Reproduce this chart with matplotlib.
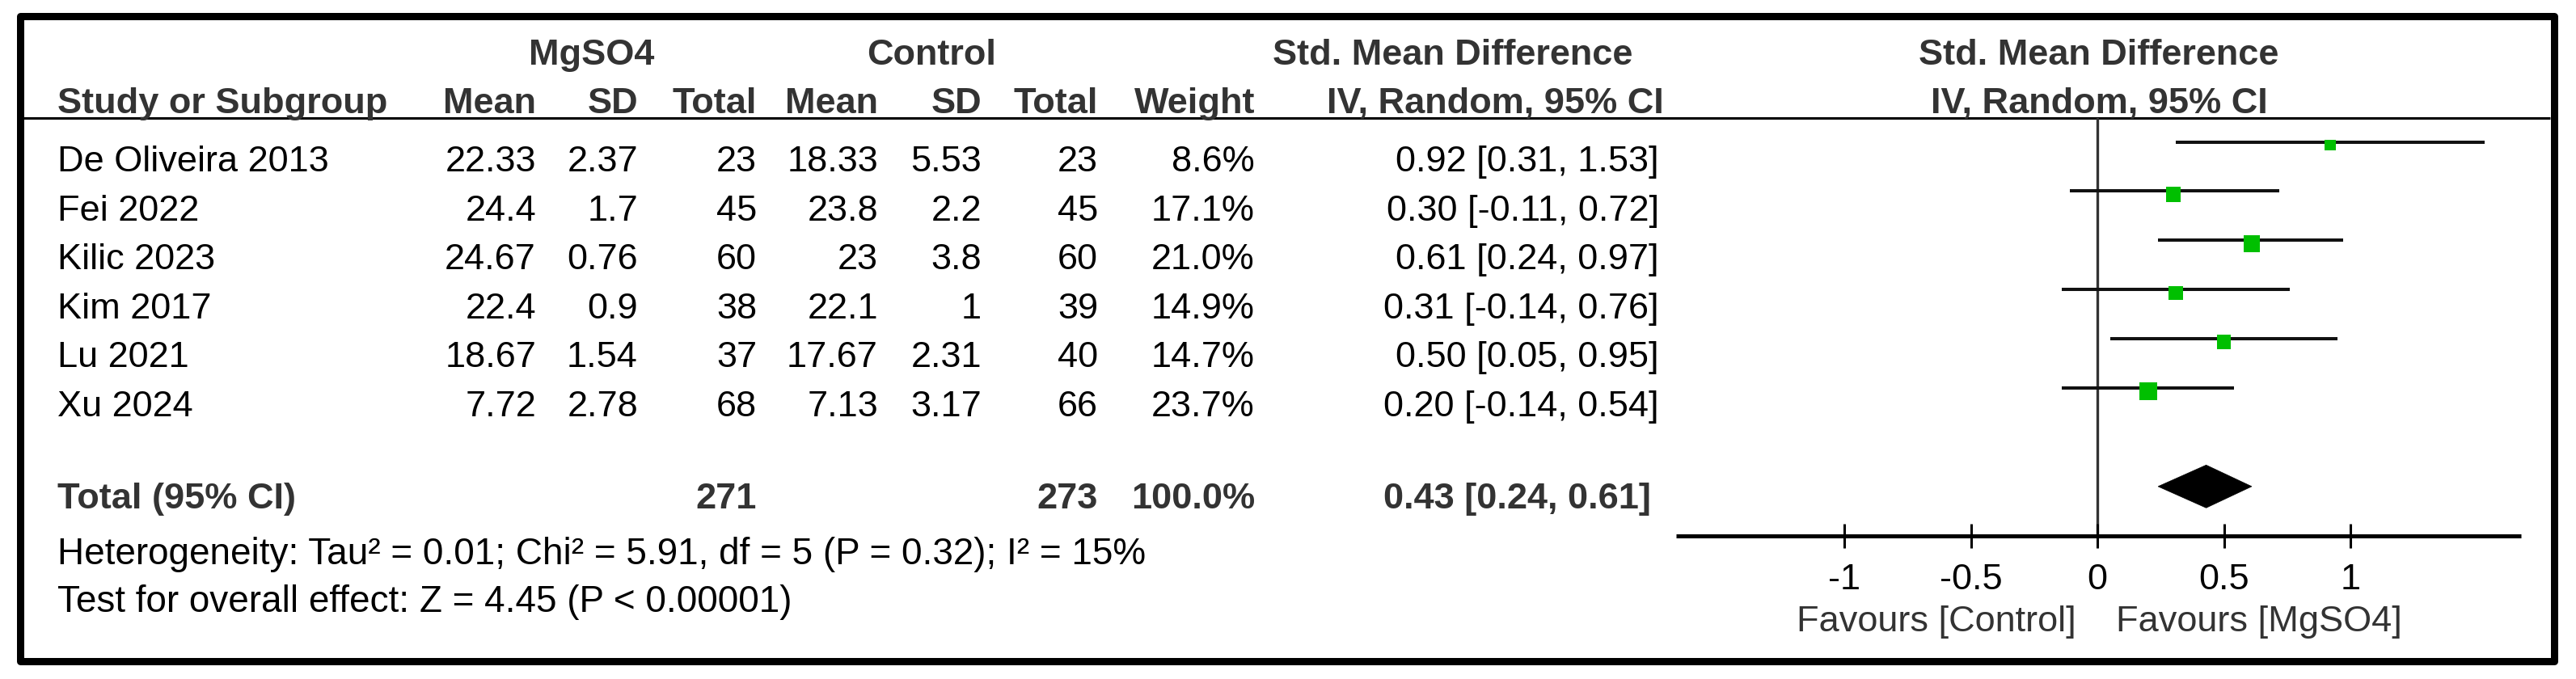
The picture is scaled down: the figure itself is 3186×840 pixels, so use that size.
import matplotlib
matplotlib.use("Agg")
import matplotlib.pyplot as plt
from matplotlib.patches import Rectangle, Polygon
import numpy as np

# ---------------- data ----------------
studies = ['De Oliveira 2013', 'Fei 2022', 'Kilic 2023', 'Kim 2017', 'Lu 2021', 'Xu 2024']
mg_mean = [22.33, 24.4, 24.67, 22.4, 18.67, 7.72]
mg_sd = [2.37, 1.7, 0.76, 0.9, 1.54, 2.78]
mg_n = [23, 45, 60, 38, 37, 68]
ct_mean = [18.33, 23.8, 23, 22.1, 17.67, 7.13]
ct_sd = [5.53, 2.2, 3.8, 1, 2.31, 3.17]
ct_n = [23, 45, 60, 39, 40, 66]
weight = [8.6, 17.1, 21.0, 14.9, 14.7, 23.7]
smd = [0.92, 0.30, 0.61, 0.31, 0.50, 0.20]
ci_lo = [0.31, -0.11, 0.24, -0.14, 0.05, -0.14]
ci_hi = [1.53, 0.72, 0.97, 0.76, 0.95, 0.54]
total_mg_n = 271
total_ct_n = 273
total_weight = 100.0
total_smd = 0.43
total_lo = 0.24
total_hi = 0.61
heterogeneity = "Heterogeneity: Tau\u00b2 = 0.01; Chi\u00b2 = 5.91, df = 5 (P = 0.32); I\u00b2 = 15%"
overall = "Test for overall effect: Z = 4.45 (P < 0.00001)"
tick_vals = [-1, -0.5, 0, 0.5, 1]
tick_labels = ['-1', '-0.5', '0', '0.5', '1']
favours_left = "Favours [Control]"
favours_right = "Favours [MgSO4]"

# ---------------- layout ----------------
W, H = 3186, 840
DPI = 100
FONT = 'Liberation Sans'
FS = 32.5
GRAY = '#333333'

fig = plt.figure(figsize=(W / DPI, H / DPI), dpi=DPI)
fig.patch.set_facecolor('white')

ax_t = fig.add_axes([0, 0, 1, 1])
ax_t.set_xlim(0, W)
ax_t.set_ylim(H, 0)
ax_t.axis('off')

def txt(x, y, s, ha='left', bold=False, color='black', fs=FS):
    ax_t.text(x, y, s, ha=ha, va='baseline', fontsize=fs, family=FONT,
              fontweight='bold' if bold else 'normal', color=color)

# frame
ax_t.add_patch(Rectangle((24.5, 19.5), 3158.5 - 24.5, 817.5 - 19.5, fill=False,
                         lw=9 * 0.72, ec='black', joinstyle='round', clip_on=False))
# header underline
ax_t.plot([29, 3154], [145.5, 145.5], color='black', lw=2.2, solid_capstyle='butt')

# column right edges (px)
x_study = 71
x_mg_mean, x_mg_sd, x_mg_n = 663, 789, 936
x_ct_mean, x_ct_sd, x_ct_n = 1086, 1214, 1358
x_w = 1552
x_ci = 2052
x_ci_head = 2058

# header rows
txt(732, 80, 'MgSO4', ha='center', bold=True, color=GRAY)
txt(1152, 80, 'Control', ha='center', bold=True, color=GRAY)
txt(1797, 80, 'Std. Mean Difference', ha='center', bold=True, color=GRAY)
txt(2596, 80, 'Std. Mean Difference', ha='center', bold=True, color=GRAY)
y_h2 = 140
txt(x_study, y_h2, 'Study or Subgroup', bold=True, color=GRAY)
for x, s in [(x_mg_mean, 'Mean'), (x_mg_sd, 'SD'), (x_mg_n, 'Total'),
             (x_ct_mean, 'Mean'), (x_ct_sd, 'SD'), (x_ct_n, 'Total'),
             (x_w, 'Weight'), (x_ci_head, 'IV, Random, 95% CI')]:
    txt(x, y_h2, s, ha='right', bold=True, color=GRAY)
txt(2596, y_h2, 'IV, Random, 95% CI', ha='center', bold=True, color=GRAY)

# study rows
row0, row_step = 212, 60.6
for i, name in enumerate(studies):
    y = row0 + i * row_step
    txt(x_study, y, name)
    txt(x_mg_mean, y, f"{mg_mean[i]:g}", ha='right')
    txt(x_mg_sd, y, f"{mg_sd[i]:g}", ha='right')
    txt(x_mg_n, y, f"{mg_n[i]:g}", ha='right')
    txt(x_ct_mean, y, f"{ct_mean[i]:g}", ha='right')
    txt(x_ct_sd, y, f"{ct_sd[i]:g}", ha='right')
    txt(x_ct_n, y, f"{ct_n[i]:g}", ha='right')
    txt(x_w, y, f"{weight[i]:.1f}%", ha='right')
    txt(x_ci, y, f"{smd[i]:.2f} [{ci_lo[i]:.2f}, {ci_hi[i]:.2f}]", ha='right')

# total row
y_tot = 629
txt(x_study, y_tot, 'Total (95% CI)', bold=True, color=GRAY)
txt(x_mg_n, y_tot, f"{total_mg_n}", ha='right', bold=True, color=GRAY)
txt(x_ct_n, y_tot, f"{total_ct_n}", ha='right', bold=True, color=GRAY)
txt(x_w, y_tot, f"{total_weight:.1f}%", ha='right', bold=True, color=GRAY)
txt(x_ci - 10, y_tot, f"{total_smd:.2f} [{total_lo:.2f}, {total_hi:.2f}]", ha='right', bold=True, color=GRAY)

txt(x_study, 698, heterogeneity, fs=33.0)
txt(x_study, 757, overall, fs=33.0)

txt(2568, 781, favours_left, ha='right', color=GRAY)
txt(2617, 781, favours_right, ha='left', color=GRAY)

# ---------------- forest axes ----------------
zero_px, unit_px = 2594, 313
xmin, xmax = -1.665, 1.675
top_px, bot_px = 145.5, 662.5
first_row_px, step_px = 175.5, 60.9
left_px = zero_px + xmin * unit_px
right_px = zero_px + xmax * unit_px
ax_f = fig.add_axes([left_px / W, (H - bot_px) / H, (right_px - left_px) / W, (bot_px - top_px) / H])
ax_f.set_facecolor('none')
ax_f.set_xlim(xmin, xmax)
ax_f.set_ylim((bot_px - first_row_px) / step_px, (top_px - first_row_px) / step_px)
for s in ['top', 'left', 'right']:
    ax_f.spines[s].set_visible(False)
ax_f.spines['bottom'].set_linewidth(3.6)
ax_f.spines['bottom'].set_capstyle('butt')
ax_f.set_yticks([])
ax_f.set_xticks(tick_vals)
ax_f.set_xticklabels(tick_labels, fontsize=FS, family=FONT)
ax_f.tick_params(axis='x', direction='inout', length=21.6, width=2.2, pad=14, colors='black')

ax_f.axvline(0, color=GRAY, lw=2.4, zorder=1)

rows = np.arange(len(studies))
ax_f.hlines(rows, ci_lo, ci_hi, color='#111111', lw=2.9, zorder=2)
sq_side_pt = 4.5 * np.sqrt(np.array(weight)) * 0.72
ax_f.scatter(smd, rows + 0.066, marker='s', s=sq_side_pt ** 2, color='#00BF00',
             linewidths=0, zorder=3)

y_d = len(studies) + 1
hh = 0.435
ax_f.add_patch(Polygon([(total_lo, y_d), (total_smd, y_d - hh), (total_hi, y_d), (total_smd, y_d + hh)],
                       closed=True, fc='black', ec='black', lw=0.5, zorder=3))

fig.savefig('out.png', dpi=DPI, facecolor='white')
